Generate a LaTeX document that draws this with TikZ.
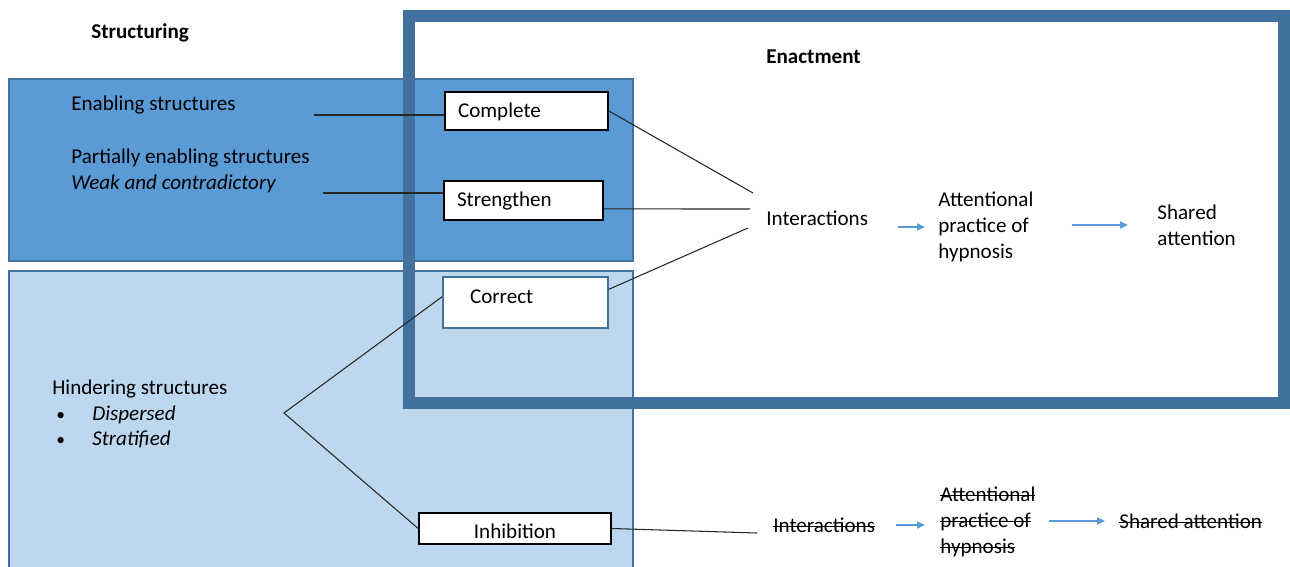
\documentclass[tikz,border=0pt]{standalone}
\usepackage{fontspec}
\setmainfont{Carlito}
\usetikzlibrary{arrows.meta}
\definecolor{darkfill}{HTML}{5B9BD5}
\definecolor{lightfill}{HTML}{BDD7EE}
\definecolor{frameblue}{HTML}{41719C}
\newcommand{\strk}[1]{\setbox0\hbox{#1}\rlap{\rule[0.55ex]{\wd0}{0.5pt}}\box0}
\newcommand{\bul}{\hspace*{0.08cm}\makebox[0.72cm][l]{\fontsize{10}{12}\selectfont\textbullet}}

\begin{document}
\begin{tikzpicture}[>=Stealth, x=0.02cm, y=-0.02cm,
  txt/.style={anchor=west, inner sep=0pt, align=left, font=\fontsize{12}{14.7}\selectfont},
  title/.style={txt, font=\fontsize{12}{14.7}\selectfont\bfseries},
  box/.style={draw, fill=white, line width=1pt, inner ysep=0pt, align=left, text height=9pt, text depth=2pt, font=\fontsize{12}{14.7}\selectfont},
  link/.style={draw=black!85, line width=0.6pt},
  flow/.style={-{Triangle[length=4.5pt,width=4pt]}, draw=darkfill, line width=0.7pt}]
  \useasboundingbox (0,0) rectangle (1290,567);
  \draw[frameblue, fill=darkfill, line width=0.6pt] (9,79) rectangle (633,261);
  \draw[frameblue, fill=lightfill, line width=0.6pt] (9,271) rectangle (633,580);
  \draw[frameblue, line width=0.24cm] (408.5,16) rectangle (1284,402.5);

  \node[title] (structuring) at (91,33) {Structuring};
  \node[title] (enactment) at (766,57) {Enactment};
  \node[txt] (enabling) at (71,105) {Enabling structures};
  \node[txt] (partial) at (71,171) {Partially enabling structures\\\textit{Weak and contradictory}};
  \node[txt] (hindering) at (52,414) {Hindering structures\\
    \bul\textit{Dispersed}\\
    \bul\textit{Stratified}};

  \node[box, minimum width=3.26cm, minimum height=0.76cm, inner xsep=0.26cm, text width=2.74cm] (complete) at (526.5,111) {Complete};
  \node[box, minimum width=3.18cm, minimum height=0.78cm, inner xsep=0.26cm, text width=2.66cm] (strengthen) at (523.5,200.5) {Strengthen};
  \node[box, draw=frameblue, minimum width=3.3cm, minimum height=1.02cm, inner xsep=0.54cm, text width=2.22cm, text depth=8.2pt] (correct) at (525.5,302.5) {Correct};
  \node[box, align=center, minimum width=3.84cm, minimum height=0.62cm, text width=3.6cm, text height=13pt] (inhibition) at (515,528.5) {Inhibition};

  \node[txt] (inter) at (766,218) {Interactions};
  \node[txt] (attn) at (938,227) {Attentional\\practice of\\hypnosis};
  \node[txt] (shared) at (1157,225) {Shared\\attention};
  \node[txt] (inter2) at (773,525) {\strk{Interactions}};
  \node[txt] (attn2) at (940,522) {\strk{Attentional}\\\strk{practice of}\\\strk{hypnosis}};
  \node[txt] (shared2) at (1119,521) {\strk{Shared attention}};

  \coordinate (e1) at (314,115);
  \coordinate (e2) at (323,193);
  \coordinate (apex) at (284,413);
  \coordinate (i1) at (753,193);
  \coordinate (i2) at (750,209);
  \coordinate (i3) at (748,228);
  \coordinate (i4) at (757,533);

  \draw[link] (e1) -- (e1 -| complete.west);
  \draw[link] (e2) -- (e2 -| strengthen.west);
  \draw[link] (correct.176) -- (apex) -- (inhibition.west);
  \draw[link] (complete.east) -- (i1);
  \draw[link] (strengthen.-6) -- (i2);
  \draw[link] (correct.9) -- (i3);
  \draw[link] (inhibition.east) -- (i4);

  \draw[flow, shorten <=0.6cm, shorten >=0.26cm] (inter.east |- attn.west) -- (attn.west);
  \draw[flow, shorten <=0.76cm, shorten >=0.58cm] (attn.east |- shared.west) -- (shared.west);
  \draw[flow, shorten <=0.42cm, shorten >=0.3cm] (inter2.east) -- (inter2.east -| attn2.west);
  \draw[flow, shorten <=0.26cm, shorten >=0.28cm] (attn2.east |- shared2.west) -- (shared2.west);
\end{tikzpicture}
\end{document}
